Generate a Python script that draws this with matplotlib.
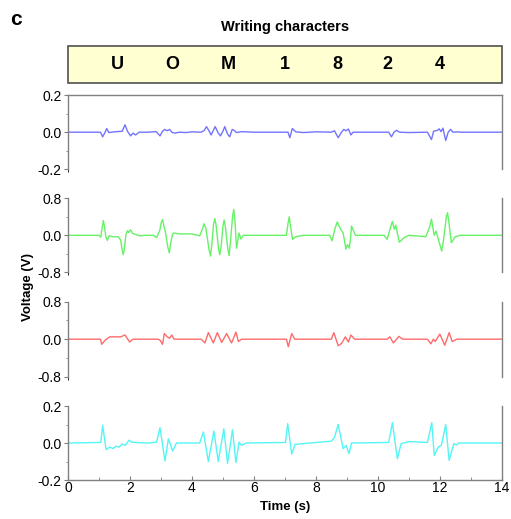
import matplotlib.pyplot as plt
from matplotlib.ticker import MultipleLocator
from matplotlib.patches import Rectangle

plt.rcParams['font.family'] = ['Liberation Sans', 'DejaVu Sans']

# written characters and where they were drawn (s)
chars = ['U', 'O', 'M', '1', '8', '2', '4']
char_t = [1.6, 3.35, 5.16, 7.0, 8.7, 10.3, 12.0]

# channel 1 (blue)
t1 = [0, 1.05, 1.12, 1.2, 1.25, 1.32, 1.5, 1.75, 1.84, 1.92, 2.02, 2.1, 2.18, 2.3, 2.6,
      2.85, 2.97, 3.05, 3.12, 3.2, 3.28, 3.35, 3.45, 3.6, 3.8, 4.0, 4.3, 4.4, 4.47, 4.56,
      4.62, 4.75, 4.85, 4.92, 5.0, 5.06, 5.15, 5.22, 5.3, 5.36, 5.44, 5.6, 6.0, 7.1, 7.16,
      7.24, 7.35, 7.6, 8.0, 8.5, 8.6, 8.72, 8.82, 8.9, 8.97, 9.05, 9.13, 9.2, 10.35, 10.44,
      10.52, 10.6, 10.7, 11.0, 11.6, 11.73, 11.8, 11.92, 11.98, 12.04, 12.1, 12.19, 12.27,
      12.35, 12.42, 12.6, 12.65, 14]
v1 = [0, 0, -0.025, 0.0, 0.02, -0.002, 0.002, 0.005, 0.04, 0.005, -0.02, -0.005, -0.015, 0.0, 0.0,
      0.003, -0.02, 0.005, 0.015, 0.008, 0.015, 0.0, -0.005, 0.0, -0.002, 0.002, 0.0, 0.01, 0.03, 0.005,
      -0.015, 0.03, -0.005, -0.02, 0.005, 0.03, -0.01, -0.025, 0.015, 0.01, -0.002, 0.003, 0.0, 0.0, -0.03,
      0.02, 0.002, -0.002, 0.002, 0.0, 0.008, -0.03, -0.002, 0.015, 0.008, 0.017, -0.015, 0.0, 0.0, -0.025,
      0.0, 0.01, 0.0, -0.002, 0.0, -0.04, 0.005, 0.01, 0.018, 0.003, 0.022, -0.045, 0.0,
      0.015, 0.0, 0.002, 0.0, 0]

# channel 2 (green)
t2 = [0, 1.0, 1.06, 1.1, 1.14, 1.18, 1.22, 1.27, 1.33, 1.45, 1.62, 1.7, 1.74, 1.78, 1.82,
      1.87, 1.92, 1.96, 2.02, 2.09, 2.18, 2.3, 2.5, 2.75, 2.86, 2.96, 3.01, 3.05, 3.09, 3.15,
      3.22, 3.27, 3.31, 3.37, 3.42, 3.6, 4.0, 4.25, 4.33, 4.39, 4.45, 4.55, 4.6, 4.65, 4.7,
      4.74, 4.78, 4.86, 4.9, 4.95, 5.0, 5.04, 5.08, 5.16, 5.2, 5.25, 5.31, 5.35, 5.39, 5.44,
      5.52, 5.58, 5.66, 5.8, 7.05, 7.1, 7.14, 7.18, 7.25, 7.35, 7.6, 8.45, 8.52, 8.62, 8.69,
      8.75, 8.8, 8.88, 8.97, 9.02, 9.08, 9.12, 9.15, 9.2, 9.28, 9.5, 10.2, 10.3, 10.42, 10.47,
      10.53, 10.58, 10.63, 10.69, 10.85, 11.0, 11.55, 11.68, 11.73, 11.78, 11.82, 11.88,
      11.98, 12.06, 12.12, 12.21, 12.25, 12.29, 12.37, 12.5, 12.65, 14]
v2 = [0, 0, -0.04, 0.15, 0.32, 0.18, -0.02, -0.11, -0.01, -0.03, -0.03, -0.1, -0.28, -0.42, -0.3,
      0.02, 0.1, 0.06, 0.12, 0.04, 0.02, -0.01, 0.0, 0.0, -0.05, 0.1, 0.28, 0.34, 0.22, 0.05,
      -0.25, -0.38, -0.2, 0.02, 0.05, 0.03, 0.03, -0.01, 0.12, 0.25, 0.15, -0.3, -0.45, -0.15, 0.25,
      0.36, 0.22, -0.3, -0.42, -0.2, 0.2, 0.33, 0.18, -0.3, -0.44, -0.1, 0.4, 0.56, 0.3, -0.28,
      0.05, -0.08, 0.0, 0.0, 0.0, 0.25, 0.40, 0.2, -0.09, -0.03, 0.0, 0.0, -0.12, 0.15, 0.29,
      0.2, 0.13, 0.05, -0.3, -0.2, -0.28, -0.05, 0.2, 0.12, 0.0, 0.0, 0.0, -0.09, 0.2, 0.30,
      0.13, 0.22, 0.05, -0.15, -0.05, 0.0, -0.03, 0.2, 0.35, 0.15, 0.0, 0.09,
      -0.15, -0.34, -0.1, 0.4, 0.49, 0.3, -0.16, -0.03, 0.0, 0]

# channel 3 (red)
t3 = [0, 1.05, 1.09, 1.2, 1.35, 1.55, 1.7, 1.84, 1.99, 2.1, 2.9, 2.97, 3.05, 3.11, 3.2,
      3.28, 3.35, 3.42, 4.3, 4.42, 4.53, 4.69, 4.82, 4.96, 5.12, 5.28, 5.42, 5.5, 5.6, 7.05,
      7.11, 7.22, 7.32, 8.5, 8.58, 8.72, 8.83, 8.95, 9.05, 9.13, 9.25, 10.3, 10.39, 10.5,
      10.68, 10.8, 11.6, 11.71, 11.79, 11.85, 12.0, 12.16, 12.3, 12.4, 12.55, 14]
v3 = [0, 0, -0.11, -0.02, 0.05, 0.05, 0.05, 0.09, -0.06, 0.0, 0.0, -0.02, -0.11, 0.12, 0.05,
      0.02, 0.09, 0.0, 0.0, -0.08, 0.14, -0.08, 0.14, -0.07, 0.12, -0.08, 0.15, -0.05, 0.0, 0.0,
      -0.16, 0.12, 0.0, 0.0, 0.14, -0.14, -0.09, 0.05, -0.06, 0.09, 0.0, 0.0, 0.05, -0.08,
      0.06, 0.0, 0.0, -0.1, 0.0, -0.05, 0.11, -0.13, 0.14, -0.05, 0.0, 0]

# channel 4 (cyan)
t4 = [0, 1.06, 1.12, 1.23, 1.35, 1.45, 1.55, 1.65, 1.75, 1.85, 1.97, 2.05, 2.25, 2.6, 2.86,
      2.97, 3.13, 3.24, 3.38, 3.5, 4.25, 4.37, 4.53, 4.71, 4.85, 5.03, 5.15, 5.31, 5.42, 5.52,
      5.6, 5.75, 7.02, 7.09, 7.22, 7.33, 7.6, 8.5, 8.6, 8.72, 8.88, 8.98, 9.07, 9.15, 10.35,
      10.47, 10.63, 10.75, 11.0, 11.6, 11.74, 11.82, 11.95, 12.05, 12.19, 12.3, 12.45, 12.55,
      12.6, 14]
v4 = [0, 0.003, 0.095, -0.036, -0.022, -0.03, -0.018, -0.022, -0.005, -0.013, 0.015, 0.005, 0.002, 0.0, 0.005,
      0.083, -0.097, 0.023, -0.043, 0.0, 0.0, 0.06, -0.10, 0.065, -0.10, 0.077, -0.11, 0.072, -0.106, 0.005,
      -0.013, 0.0, 0.003, 0.105, -0.06, -0.007, -0.003, 0.01, 0.03, 0.10, -0.03, -0.013, -0.057, 0.0, 0.003,
      0.11, -0.085, -0.004, 0.008, 0.003, 0.11, -0.067, -0.022, -0.013, 0.10, -0.094, -0.004, -0.01,
      0.0, 0]

series = [(t1, v1, '#7373ff', 0.2), (t2, v2, '#66f266', 0.8),
          (t3, v3, '#ff6b6b', 0.8), (t4, v4, '#55f5f5', 0.2)]

fig = plt.figure(figsize=(5.11, 5.19), dpi=100)
left, width = 0.133, 0.849
bottoms = [0.674, 0.4753, 0.2742, 0.0751]
heights = [0.1426, 0.1426, 0.1445, 0.1426]
spine_c = '#808080'

axes = []
for i, (t, v, c, lim) in enumerate(series):
    ax = fig.add_axes([left, bottoms[i], width, heights[i]])
    ax.plot(t, v, color=c, lw=1.0)
    ax.set_xlim(0, 14)
    ax.set_ylim(-lim, lim)
    ax.set_yticks([-lim, 0, lim])
    ax.set_yticklabels(['%.1f' % -lim, '0.0', '%.1f' % lim])
    ax.yaxis.set_minor_locator(MultipleLocator(lim / 2))
    for s in ax.spines.values():
        s.set_color(spine_c)
        s.set_linewidth(1.0)
    ax.spines['top'].set_visible(i == 0)
    ax.spines['bottom'].set_visible(i == 3)
    ax.tick_params(axis='y', direction='out', length=3, width=0.8, color=spine_c,
                   labelsize=10, pad=1.5, right=False)
    ax.tick_params(axis='y', which='minor', direction='out', length=1.5, width=0.6, color=spine_c)
    if i == 3:
        ax.set_xticks(range(0, 15, 2))
        ax.xaxis.set_minor_locator(MultipleLocator(1))
        ax.tick_params(axis='x', direction='in', length=3, width=0.8, color=spine_c,
                       labelsize=10, pad=1)
        ax.tick_params(axis='x', which='minor', direction='in', length=2, color=spine_c)
        ax.set_xlabel('Time (s)', fontsize=9.5, fontweight='bold', labelpad=4)
    else:
        ax.set_xticks([])
        ax.xaxis.set_minor_locator(MultipleLocator(100))
    axes.append(ax)

# character strip above the traces
bx = fig.add_axes([left, 0.840, width, 0.0713])
bx.set_xlim(0, 14)
bx.set_ylim(0, 1)
bx.add_patch(Rectangle((0, 0), 1, 1, facecolor='#ffffd2', edgecolor='#505050', lw=1.2,
                       transform=bx.transAxes, clip_on=False))
for ch, tc in zip(chars, char_t):
    bx.text(tc, 0.5, ch, ha='center', va='center', fontsize=13, fontweight='bold')
bx.axis('off')

fig.text(0.558, 0.948, 'Writing characters', ha='center', va='center',
         fontsize=10.5, fontweight='bold')
fig.text(0.032, 0.962, 'c', ha='center', va='center', fontsize=15, fontweight='bold')
fig.text(0.055, 0.447, 'Voltage (V)', ha='center', va='center', rotation=90,
         fontsize=9.5, fontweight='bold')

fig.savefig('out.png', dpi=100)
